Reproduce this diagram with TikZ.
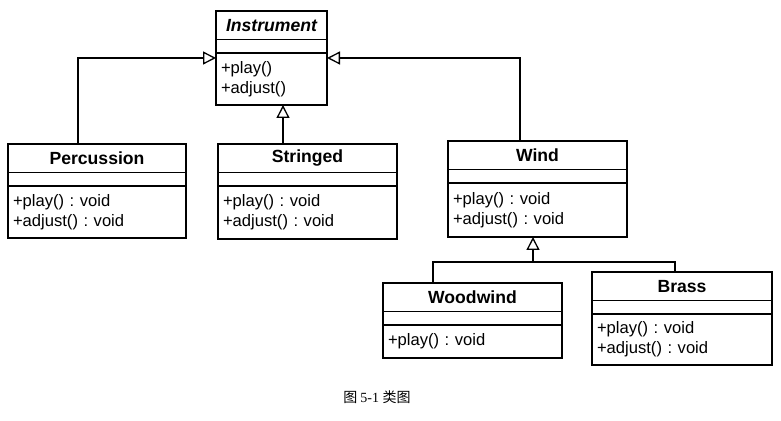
\documentclass[tikz,border=0pt]{standalone}
\usepackage{fontspec}
\setmainfont{Liberation Sans}
\newfontfamily\cjk{Noto Sans CJK SC}
\newfontfamily\numfont{Liberation Serif}
\usetikzlibrary{positioning,arrows.meta}
\frenchspacing

\tikzset{
  classname/.style={draw, line width=0.65pt, inner sep=0pt, outer sep=0pt, minimum height=14.25pt, font=\fontsize{8.8}{10}\selectfont\bfseries},
  attrbox/.style={draw, line width=0.65pt, inner sep=0pt, outer sep=0pt, minimum height=6.75pt},
  opbox/.style={draw, line width=0.65pt, inner xsep=2.5pt, inner ysep=0pt, outer sep=0pt, align=left, font=\fontsize{8.3}{10}\selectfont},
  inherit/.style={line width=0.65pt, -{Triangle[open,length=6.5pt,width=6.5pt]}},
}

\begin{document}
\begin{tikzpicture}[x=0.5pt, y=-0.5pt]
    \useasboundingbox (0,0) rectangle (781,421);

    % Instrument
    \node[classname, minimum width=55.5pt, anchor=north west, font=\fontsize{8.8}{10}\selectfont\bfseries\itshape] (InstName) at (216,11) {Instrument};
    \node[attrbox, minimum width=55.5pt, below=0pt of InstName] (InstAttr) {};
    \node[opbox, text width=50.5pt, minimum height=26pt, below=0pt of InstAttr] (InstOps) {+play()\\+adjust()};

    % Percussion
    \node[classname, minimum width=89pt, anchor=north west] (PercName) at (8,144) {Percussion};
    \node[attrbox, minimum width=89pt, below=0pt of PercName] (PercAttr) {};
    \node[opbox, text width=84pt, minimum height=26pt, below=0pt of PercAttr] (PercOps) {+play() : void\\+adjust() : void};

    % Stringed
    \node[classname, minimum width=89.5pt, anchor=north west] (StrName) at (218,144) {Stringed};
    \node[attrbox, minimum width=89.5pt, below=0pt of StrName] (StrAttr) {};
    \node[opbox, text width=84.5pt, minimum height=26.5pt, below=0pt of StrAttr] (StrOps) {+play() : void\\+adjust() : void};

    % Wind
    \node[classname, minimum width=89.5pt, anchor=north west] (WindName) at (448,141) {Wind};
    \node[attrbox, minimum width=89.5pt, below=0pt of WindName] (WindAttr) {};
    \node[opbox, text width=84.5pt, minimum height=27pt, below=0pt of WindAttr] (WindOps) {+play() : void\\+adjust() : void};

    % Woodwind
    \node[classname, minimum width=89.5pt, anchor=north west] (WoodName) at (383,283) {Woodwind};
    \node[attrbox, minimum width=89.5pt, below=0pt of WoodName] (WoodAttr) {};
    \node[opbox, text width=84.5pt, minimum height=16.5pt, below=0pt of WoodAttr] (WoodOps) {+play() : void};

    % Brass
    \node[classname, minimum width=90pt, anchor=north west] (BrassName) at (592,272) {Brass};
    \node[attrbox, minimum width=90pt, below=0pt of BrassName] (BrassAttr) {};
    \node[opbox, text width=85pt, minimum height=25.5pt, below=0pt of BrassAttr] (BrassOps) {+play() : void\\+adjust() : void};

    % generalizations
    \draw[inherit] ([xshift=35pt]PercName.north west) |- ([yshift=-2.5pt]InstOps.north west);
    \draw[inherit] ([xshift=36pt]WindName.north west) |- ([yshift=-2.5pt]InstOps.north east);
    \draw[inherit] ([xshift=32.5pt]StrName.north west) coordinate (StrTop) -- (StrTop |- InstOps.south);
    \coordinate (WindJoin) at (533,262);
    \draw[line width=0.65pt] ([xshift=25pt]WoodName.north west) |- (WindJoin) -| ([xshift=41.5pt]BrassName.north west);
    \draw[inherit] (WindJoin) -- (WindJoin |- WindOps.south);

    \node[font=\fontsize{7}{8}\selectfont] (Caption) at (377,397) {\cjk 图\ \numfont 5-1\ \cjk 类图};
\end{tikzpicture}
\end{document}
